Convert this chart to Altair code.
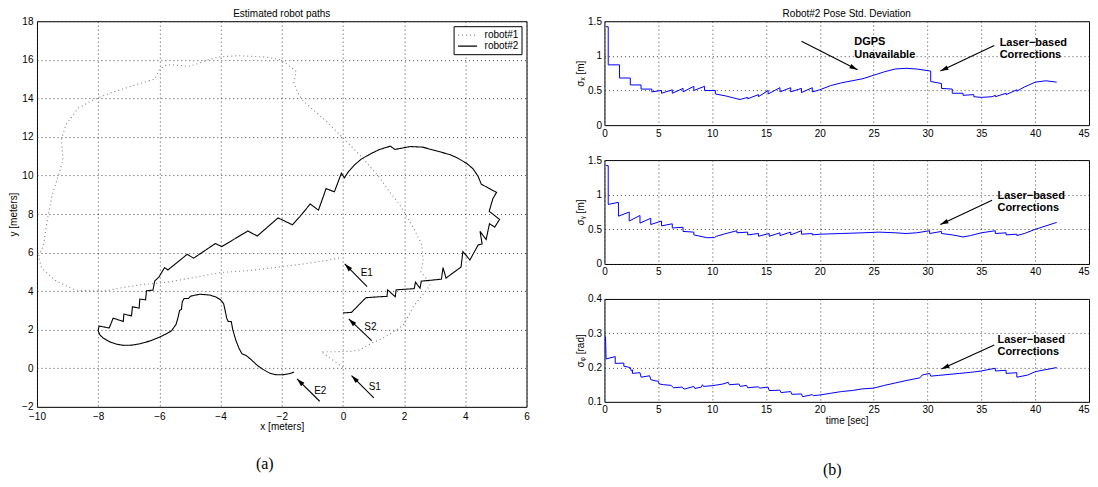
import math
import altair as alt
import pandas as pd

FONT = "Liberation Sans"

# ---------------- left panel: estimated robot paths ----------------
r1_x = [0.0, -0.35, -0.71, -0.2, 0.27, 0.54, 0.98, 1.25, 1.53, 1.96, 2.07, 2.3, 2.6, 2.85, 2.75, 2.55, 2.62,
        2.58, 2.3, 1.85, 1.5, 1.2, 0.54, 0.0, -0.54, -1.3, -1.48, -1.6, -1.53, -1.85, -2.05, -2.5, -3.4,
        -4.05, -4.4, -5.0, -5.75, -6.0, -6.15, -6.75, -7.6, -8.15, -8.65, -9.05, -9.2, -9.15, -9.3, -9.5,
        -9.65, -9.8, -9.95, -9.85, -9.4, -8.75, -7.85, -7.15, -6.5, -5.8, -4.9, -4.0, -3.1, -2.2, -1.3,
        -0.5, -0.05]
r1_y = [0.05, 0.45, 0.86, 0.86, 0.88, 0.95, 1.34, 1.52, 1.78, 2.21, 2.5, 3.2, 3.8, 4.3, 4.6, 5.0, 5.6,
        6.4, 7.3, 8.5, 9.2, 9.88, 11.09, 11.95, 12.8, 13.87, 14.3, 14.8, 15.4, 15.8, 16.0, 16.14, 16.21,
        16.15, 16.0, 15.66, 15.75, 15.5, 15.0, 14.71, 14.28, 13.93, 13.5, 12.64, 11.9, 10.8, 10.0, 9.0,
        7.8, 6.3, 5.8, 5.2, 4.55, 4.05, 4.0, 4.2, 4.35, 4.45, 4.7, 4.97, 5.06, 5.23, 5.41, 5.6, 5.75]

r2_x = [0.00, 0.28, 0.75, 1.20, 1.44, 1.46, 1.71, 1.74, 2.33, 2.37, 2.52, 2.56, 3.22, 3.27, 3.37, 3.86,
        3.92, 4.15, 4.42, 4.55, 4.48, 4.68, 4.79, 4.96, 5.12, 4.78, 4.90, 5.02, 4.52, 4.42, 4.25, 4.05,
        3.75, 3.50, 3.00, 2.60, 2.20, 1.70, 1.55, 1.20, 0.90, 0.60, 0.38, 0.18, 0.05, -0.05, -0.28,
        -0.55, -0.80, -1.07, -1.40, -1.65, -2.12, -2.80, -3.11, -3.96, -4.17, -4.88, -5.09, -5.72,
        -5.83, -6.01, -6.15, -6.21, -6.42, -6.45, -6.64, -6.66, -6.88, -6.91, -7.16, -7.18, -7.51,
        -7.64, -7.97, -8.00, -7.95, -7.85, -7.62, -7.40, -7.18, -6.90, -6.64, -6.30, -5.99, -5.77,
        -5.60, -5.45, -5.38, -5.34, -5.28, -5.25, -5.19, -5.05, -4.98, -4.68, -4.36, -4.15, -4.00,
        -3.90, -3.85, -3.80, -3.75, -3.65, -3.60, -3.50, -3.40, -3.30, -3.16, -3.00, -2.80, -2.62,
        -2.40, -2.20, -1.97, -1.75, -1.60]
r2_y = [2.87, 2.90, 3.66, 3.71, 3.73, 4.07, 3.71, 4.07, 4.13, 4.47, 4.15, 4.52, 4.62, 5.22, 4.68, 5.25,
        6.05, 5.62, 6.40, 6.45, 7.10, 6.68, 7.50, 7.32, 7.72, 8.14, 8.80, 9.12, 9.55, 9.95, 10.35, 10.62,
        10.90, 11.08, 11.30, 11.47, 11.50, 11.35, 11.52, 11.35, 11.12, 10.85, 10.55, 10.20, 9.88, 10.12,
        9.15, 9.32, 8.20, 8.52, 7.88, 7.44, 7.80, 6.86, 7.12, 6.31, 6.47, 5.71, 5.91, 5.10, 5.22, 4.74,
        4.53, 4.05, 4.02, 3.55, 3.59, 3.12, 3.19, 2.72, 2.81, 2.43, 2.60, 2.09, 2.19, 1.95, 1.75, 1.58,
        1.37, 1.25, 1.19, 1.20, 1.27, 1.42, 1.62, 1.79, 1.95, 2.29, 2.70, 3.00, 3.05, 3.45, 3.62, 3.62,
        3.74, 3.84, 3.80, 3.70, 3.55, 3.35, 3.00, 2.60, 2.43, 2.42, 2.00, 1.45, 1.05, 0.75, 0.66, 0.45,
        0.15, -0.05, -0.25, -0.33, -0.34, -0.28, -0.20]

robot_names = ["robot#1", "robot#2"]

mark_labels = ["E1", "S2", "S1", "E2"]
mark_tail_x = [0.79, 0.94, 1.01, -0.76]
mark_tail_y = [4.23, 1.43, -1.54, -1.71]
mark_head_x = [0.06, 0.19, 0.28, -1.50]
mark_head_y = [5.41, 2.56, -0.38, -0.55]
mark_text_x = [0.58, 0.70, 0.84, -0.94]
mark_text_y = [4.92, 2.16, -0.98, -1.16]

# ---------------- right panels: robot#2 pose std. deviation ----------------
sx_t = [0.15, 0.35, 0.35, 1.4, 1.4, 2.4, 2.4, 3.4, 3.4, 4.4, 4.4, 5.3, 5.3, 6.3, 6.3, 7.3, 7.3, 8.3, 8.3,
        9.3, 9.3, 10.3, 10.3, 11.3, 12.3, 12.6, 13.3, 13.3, 14.3, 14.3, 15.2, 15.2, 16.3, 16.3, 17.3, 17.3,
        18.3, 18.3, 19.3, 19.3, 20, 21, 22, 23, 24, 25, 26, 27, 28, 29, 30.3, 30.3, 31.3, 31.3, 32.3,
        32.3, 33.3, 33.3, 34.3, 34.3, 35, 36, 36.3, 36.3, 37.3, 37.3, 38.3, 38.3, 39, 40, 41, 42]
sx_v = [1.42, 1.42, 0.87, 0.87, 0.68, 0.68, 0.58, 0.58, 0.52, 0.52, 0.48, 0.50, 0.46, 0.51, 0.46, 0.53,
        0.48, 0.56, 0.50, 0.56, 0.50, 0.50, 0.45, 0.42, 0.38, 0.37, 0.40, 0.38, 0.44, 0.41, 0.50, 0.45,
        0.54, 0.48, 0.54, 0.48, 0.53, 0.47, 0.54, 0.48, 0.51, 0.57, 0.61, 0.64, 0.67, 0.72, 0.77, 0.81,
        0.82, 0.81, 0.78, 0.63, 0.60, 0.53, 0.52, 0.46, 0.46, 0.43, 0.44, 0.41, 0.40, 0.41, 0.43, 0.41,
        0.46, 0.44, 0.51, 0.49, 0.55, 0.62, 0.64, 0.62]

sy_t = [0.15, 0.35, 0.35, 1.3, 1.3, 2.3, 2.3, 3.3, 3.3, 4.3, 4.3, 5.3, 5.3, 6.3, 6.3, 7.3, 7.3, 8.3, 8.3,
        9.5, 10.2, 10.4, 11.3, 12.3, 12.3, 13.3, 13.3, 14.3, 14.3, 15.3, 15.3, 16.3, 16.3, 17.3, 17.3,
        18.3, 18.3, 19.3, 19.3, 20, 22, 24, 25.5, 27, 28, 29, 30.2, 30.2, 31.3, 31.3, 32.3, 33.3, 34,
        35, 36.3, 36.3, 37.3, 37.3, 38.3, 38.3, 39, 40, 41, 42]
sy_v = [1.42, 1.42, 0.86, 0.89, 0.69, 0.75, 0.62, 0.70, 0.59, 0.66, 0.57, 0.62, 0.55, 0.58, 0.52, 0.53,
        0.47, 0.46, 0.42, 0.38, 0.38, 0.40, 0.44, 0.48, 0.45, 0.46, 0.42, 0.44, 0.40, 0.44, 0.40, 0.45,
        0.41, 0.46, 0.42, 0.48, 0.43, 0.44, 0.42, 0.43, 0.44, 0.45, 0.46, 0.45, 0.44, 0.45, 0.48, 0.44,
        0.47, 0.44, 0.42, 0.39, 0.41, 0.45, 0.48, 0.44, 0.45, 0.42, 0.43, 0.41, 0.44, 0.50, 0.55, 0.60]

sp_t = [0.1, 0.15, 1.0, 1.0, 1.8, 1.8, 2.4, 2.5, 2.6, 2.6, 3.3, 3.4, 4.2, 4.3, 4.6, 5.0, 5.1, 5.5, 6.2,
        6.4, 7.2, 7.4, 8.3, 8.4, 9.0, 9.1, 9.2, 10.0, 11.0, 11.5, 11.6, 12.5, 12.6, 13.2, 13.3, 14.3,
        14.4, 15.2, 15.3, 16.3, 16.4, 17.3, 17.4, 18.3, 18.4, 19.3, 19.4, 20, 21, 22, 23, 24, 25, 26, 27,
        28, 29.3, 29.5, 30.2, 30.3, 31, 32, 33, 34, 35, 36.3, 36.3, 37.3, 37.3, 38.3, 38.3, 39.3, 40, 41,
        42]
sp_v = [0.29, 0.225, 0.232, 0.212, 0.213, 0.204, 0.200, 0.190, 0.193, 0.183, 0.185, 0.172, 0.176, 0.165,
        0.162, 0.160, 0.152, 0.150, 0.148, 0.141, 0.143, 0.137, 0.145, 0.139, 0.143, 0.150, 0.145, 0.147,
        0.152, 0.157, 0.150, 0.152, 0.145, 0.148, 0.141, 0.144, 0.140, 0.143, 0.133, 0.134, 0.127, 0.130,
        0.122, 0.123, 0.115, 0.121, 0.118, 0.120, 0.125, 0.130, 0.133, 0.138, 0.140, 0.148, 0.155, 0.162,
        0.170, 0.178, 0.183, 0.175, 0.177, 0.180, 0.183, 0.186, 0.190, 0.198, 0.190, 0.192, 0.183, 0.185,
        0.172, 0.178, 0.188, 0.194, 0.200]

# annotations (tail -> head of arrow, text block anchor)
sx_arrows = {"tx": [18.3, 36.2], "ty": [1.21, 1.15], "hx": [23.5, 31.2], "hy": [0.80, 0.78]}
sx_notes = {"x": [23.2, 36.7], "y": [1.195, 1.19], "t": ["DGPS\nUnavailable", "Laser\u2212based\nCorrections"]}
sy_arrows = {"tx": [36.0], "ty": [0.92], "hx": [31.2], "hy": [0.57]}
sy_notes = {"x": [36.5], "y": [0.985], "t": ["Laser\u2212based\nCorrections"]}
sp_arrows = {"tx": [36.2], "ty": [0.266], "hx": [31.3], "hy": [0.196]}
sp_notes = {"x": [36.5], "y": [0.281], "t": ["Laser\u2212based\nCorrections"]}

HEAD = "M0,0L0.5,1.7L-0.5,1.7Z"


def arrow_frame(tx, ty, hx, hy, px, py):
    df = pd.DataFrame({"tx": tx, "ty": ty, "hx": hx, "hy": hy})
    df["ang"] = [
        (math.degrees(math.atan2((b - a) * px, (d - c) * py)) + 360) % 360
        for a, b, c, d in zip(df.tx, df.hx, df.ty, df.hy)
    ]
    return df


def label_text(txt, xpx, ypx, size=10, font=FONT):
    return alt.Chart(pd.DataFrame({"t": [txt]})).mark_text(
        font=font, fontSize=size, color="black", baseline="middle", align="center").encode(
        x=alt.value(xpx), y=alt.value(ypx), text="t:N")


def arrow_layers(a, ax, ay):
    shaft = alt.Chart(a).mark_rule(color="black", strokeWidth=1.1).encode(
        x=alt.X("tx:Q", axis=ax), y=alt.Y("ty:Q", axis=ay), x2="hx:Q", y2="hy:Q")
    head = alt.Chart(a).mark_point(shape=HEAD, filled=True, color="black", size=90, opacity=1).encode(
        x=alt.X("hx:Q", axis=ax), y=alt.Y("hy:Q", axis=ay), angle=alt.Angle("ang:Q", scale=None))
    return [shaft, head]


# ---------- left chart ----------
LW, LH = 490, 386
paths = pd.concat([
    pd.DataFrame({"x": r1_x, "y": r1_y, "robot": robot_names[0], "i": range(len(r1_x))}),
    pd.DataFrame({"x": r2_x, "y": r2_y, "robot": robot_names[1], "i": range(len(r2_x))}),
])

lax = alt.Axis(values=list(range(-10, 7, 2)), title="x [meters]", titlePadding=0, labelOverlap=False,
               labelPadding=5)
lay = alt.Axis(values=list(range(-2, 19, 2)), title="y [meters]", titlePadding=3, labelOverlap=False,
               labelPadding=4)
lx = alt.X("x:Q", scale=alt.Scale(domain=[-10, 6], nice=False, zero=False), axis=lax)
ly = alt.Y("y:Q", scale=alt.Scale(domain=[-2, 18], nice=False, zero=False), axis=lay)

leg = alt.Legend(title=None, orient="top-right", offset=5)
path_layer = alt.Chart(paths).mark_line(strokeWidth=1.1).encode(
    x=lx, y=ly,
    order="i:Q",
    color=alt.Color("robot:N", scale=alt.Scale(domain=robot_names, range=["#808080", "#000000"]),
                    legend=leg),
    strokeDash=alt.StrokeDash("robot:N", scale=alt.Scale(domain=robot_names, range=[[1, 3], [1, 0]]),
                              legend=leg),
)

larr = arrow_frame(mark_tail_x, mark_tail_y, mark_head_x, mark_head_y, LW / 16, LH / 20)
ltext = alt.Chart(pd.DataFrame({"x": mark_text_x, "y": mark_text_y, "t": mark_labels})).mark_text(
    align="left", baseline="middle", font=FONT, fontSize=10, color="black").encode(
    x=alt.X("x:Q", axis=lax), y=alt.Y("y:Q", axis=lay), text="t:N")

left = alt.layer(
    path_layer, *arrow_layers(larr, lax, lay), ltext,
    label_text("Estimated robot paths", LW / 2, -7),
    label_text("(a)", 228, 443, size=16, font="Liberation Serif"),
).properties(width=LW, height=LH)

# ---------- right charts ----------
RW = 485


def panel(t, v, ydom, yvals, ytitle, arrows, notes, h, xtitle=None, title=None, caption=None):
    df = pd.DataFrame({"t": t, "v": v, "i": range(len(t))})
    rax = alt.Axis(values=list(range(0, 46, 5)), title=xtitle, titlePadding=1, labelOverlap=False,
                   labelAlign=alt.ExprRef("datum.value >= 45 ? 'right' : 'center'"))
    ray = alt.Axis(values=yvals, format="~g", title=ytitle, titlePadding=2, labelOverlap=False)
    xs = alt.X("t:Q", scale=alt.Scale(domain=[0, 45], nice=False), axis=rax)
    ys = alt.Y("v:Q", scale=alt.Scale(domain=ydom, nice=False, zero=False), axis=ray)
    line = alt.Chart(df).mark_line(color="#0000ff", strokeWidth=1).encode(x=xs, y=ys, order="i:Q")
    a = arrow_frame(arrows["tx"], arrows["ty"], arrows["hx"], arrows["hy"],
                    RW / 45, h / (ydom[1] - ydom[0]))
    txt = alt.Chart(pd.DataFrame({"x": notes["x"], "y": notes["y"], "t": notes["t"]})).mark_text(
        align="left", baseline="middle", font=FONT, fontSize=11, fontWeight="bold",
        lineBreak="\n", lineHeight=12.5, color="black").encode(
        x=alt.X("x:Q", axis=rax), y=alt.Y("y:Q", axis=ray), text="t:N")
    layers = [line, *arrow_layers(a, rax, ray), txt]
    if title:
        layers.append(label_text(title, RW / 2, -7))
    if caption:
        layers.append(label_text(caption, 228, 171, size=16, font="Liberation Serif"))
    return alt.layer(*layers).properties(width=RW, height=h)


top = panel(sx_t, sx_v, [0, 1.5], [0, 0.5, 1, 1.5], "\u03c3\u2093 [m]", sx_arrows, sx_notes, 104,
            title="Robot#2 Pose Std. Deviation")
mid = panel(sy_t, sy_v, [0, 1.5], [0, 0.5, 1, 1.5], "\u03c3\u1d67 [m]", sy_arrows, sy_notes, 104)
bot = panel(sp_t, sp_v, [0.1, 0.4], [0.1, 0.2, 0.3, 0.4], "\u03c3\u1d69 [rad]", sp_arrows, sp_notes, 103,
            xtitle="time [sec]", caption="(b)")

right = alt.vconcat(top, mid, bot, spacing=35, bounds="flush")

chart = alt.hconcat(left, right, spacing=78, bounds="flush").resolve_scale(
    color="independent", strokeDash="independent"
).resolve_legend(
    color="independent", strokeDash="independent"
).properties(
    padding=0, background="white"
).configure_view(stroke="black", strokeWidth=1).configure_axis(
    grid=True, gridDash=[1, 3], gridColor="#333333", gridWidth=1, gridOpacity=0.9,
    domain=False, ticks=False, labelPadding=3, labelOverlap=False, labelFlush=False, labelBound=False,
    labelSeparation=0,
    labelFont=FONT, labelFontSize=10, labelColor="black",
    titleFont=FONT, titleFontSize=10, titleFontWeight="normal", titleColor="black",
).configure_axisY(labelOverlap=False).configure_legend(
    labelFont=FONT, labelFontSize=10, labelColor="black", strokeColor="black", fillColor="white",
    padding=3, rowPadding=0, symbolType="M-0.9,0H2.9", symbolSize=100, symbolStrokeWidth=1.2,
    cornerRadius=0, labelOffset=16
)

chart.save("out.html", embed_options={"renderer": "svg", "actions": False})
